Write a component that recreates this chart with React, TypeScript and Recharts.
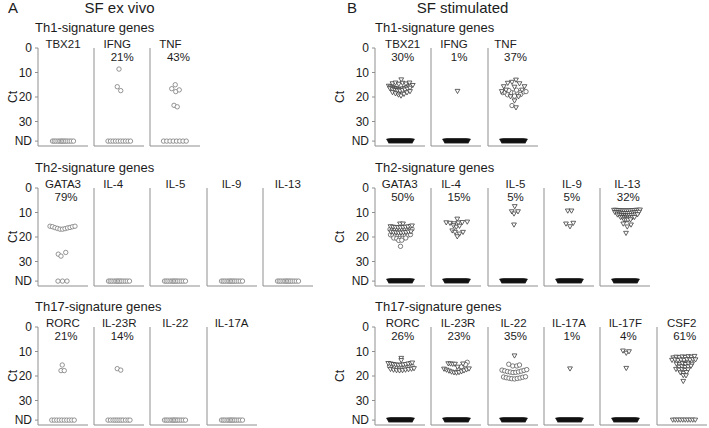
import React from 'react'
import { ScatterChart, Scatter, XAxis, YAxis } from 'recharts'

type Pt = [number, number] // [horizontal jitter, Ct]

const ND = 38
const Y_TICKS = [0, 10, 20, 30, ND]
const ROW_TITLES = ['Th1-signature genes', 'Th2-signature genes', 'Th17-signature genes']

// ---- A: SF ex vivo ----
const A_TH1_GENES = ['TBX21', 'IFNG', 'TNF']
const A_TH1_PCT = ['', '21%', '43%']
const A_TH2_GENES = ['GATA3', 'IL-4', 'IL-5', 'IL-9', 'IL-13']
const A_TH2_PCT = ['79%', '', '', '', '']
const A_TH17_GENES = ['RORC', 'IL-23R', 'IL-22', 'IL-17A']
const A_TH17_PCT = ['21%', '14%', '', '']

const A_IFNG: Pt[] = [[0, 8.6], [-0.07, 15.8], [0.07, 17.4]]
const A_TNF: Pt[] = [[0.01, 15], [-0.13, 16.6], [0.03, 17.8], [0.17, 17.1], [-0.04, 23.4], [0.09, 24]]
const A_GATA3: Pt[] = [
  [-0.52, 15.6], [-0.42, 15.8], [-0.32, 16.2], [-0.22, 16.5], [-0.12, 16.8], [-0.02, 16.8],
  [0.08, 16.6], [0.18, 16.3], [0.28, 16.1], [0.38, 15.8], [0.48, 15.6],
  [-0.19, 27.0], [-0.08, 27.8], [0.11, 26.3],
]
const A_RORC: Pt[] = [[-0.03, 15.5], [-0.08, 17.8], [0.05, 17.8]]
const A_IL23R: Pt[] = [[-0.07, 17.0], [0.07, 17.6]]

// x positions of the not-detected samples
const A_ND_DENSE = [-0.42, -0.35, -0.28, -0.2, -0.13, -0.07, -0.02, 0.04, 0.1, 0.17, 0.25, 0.33, 0.42]
const A_ND_IFNG = [-0.44, -0.34, -0.24, -0.14, -0.04, 0.06, 0.16, 0.26, 0.36, 0.46]
const A_ND_TNF = [-0.46, -0.33, -0.2, -0.07, 0.06, 0.19, 0.32, 0.45]
const A_ND_GATA3 = [-0.2, -0.02, 0.16]
const A_ND_RORC = [-0.45, -0.35, -0.25, -0.15, -0.05, 0.05, 0.15, 0.25, 0.35, 0.45]
const A_ND_IL23R = [-0.44, -0.34, -0.24, -0.16, -0.08, 0, 0.08, 0.16, 0.26, 0.36, 0.44]

// ---- B: SF stimulated ----
const B_TH1_GENES = ['TBX21', 'IFNG', 'TNF']
const B_TH1_PCT = ['30%', '1%', '37%']
const B_TH2_GENES = ['GATA3', 'IL-4', 'IL-5', 'IL-9', 'IL-13']
const B_TH2_PCT = ['50%', '15%', '5%', '5%', '32%']
const B_TH17_GENES = ['RORC', 'IL-23R', 'IL-22', 'IL-17A', 'IL-17F', 'CSF2']
const B_TH17_PCT = ['26%', '23%', '35%', '1%', '4%', '61%']

const B_TBX21_TRI: Pt[] = [
  [0.05, 13], [-0.3, 14.6], [-0.18, 14.3], [-0.05, 14.8], [0.1, 14.4], [0.24, 14.7], [0.38, 14.3],
  [-0.45, 15.6], [-0.37, 15.9], [-0.29, 16.2], [-0.21, 16.5], [-0.13, 16.7], [-0.05, 16.9], [0.03, 16.9],
  [0.11, 16.7], [0.19, 16.5], [0.27, 16.2], [0.35, 15.9], [0.43, 15.6], [0.51, 15.3],
  [-0.4, 16.6], [-0.3, 17], [-0.2, 17.3], [-0.1, 17.5], [0, 17.6], [0.1, 17.4], [0.2, 17.1], [0.3, 16.8], [0.4, 16.4],
  [-0.3, 18.2], [-0.18, 18.7], [-0.06, 19.2], [0.04, 19.6], [0.16, 18.9], [0.28, 18.3], [0.4, 17.8],
]
const B_IFNG_TRI: Pt[] = [[0.06, 17.7]]
const B_TNF_TRI: Pt[] = [
  [0.12, 13.1], [-0.04, 14], [-0.21, 14.4], [0.26, 14.6], [-0.37, 15.8], [0.46, 15.8], [0.06, 16],
  [-0.28, 17.2], [0.36, 17.2], [-0.45, 17.8], [-0.1, 19.9], [0.22, 19.9], [0.06, 21.6], [0.12, 24.4],
]
const B_TNF_CIRC: Pt[] = [
  [-0.41, 18.2], [-0.3, 18.1], [-0.18, 18.3], [-0.06, 18.2], [0.06, 18.3], [0.18, 18.1], [0.3, 18.2],
  [0.42, 17.9], [0.52, 17.8], [-0.17, 17.3], [0.14, 17.2], [0.06, 19.6], [-0.22, 19.1], [0.3, 19.0], [-0.04, 23.5],
]
const B_GATA3_TRI: Pt[] = [
  [0, 14.7], [0.12, 14.7],
  [-0.38, 15.8], [-0.28, 16], [-0.18, 16.1], [-0.08, 16.2], [0.02, 16.2], [0.12, 16.1], [0.22, 16], [0.32, 15.9], [0.42, 15.7], [0.48, 15.5],
  [-0.36, 18], [-0.26, 18.2], [-0.16, 18.3], [-0.06, 18.4], [0.04, 18.4], [0.14, 18.3], [0.24, 18.2], [0.34, 18], [0.44, 17.9],
]
const B_GATA3_CIRC: Pt[] = [
  [-0.4, 16.9], [-0.3, 17.1], [-0.2, 17.2], [-0.1, 17.3], [0, 17.3], [0.1, 17.2], [0.2, 17.1], [0.3, 17], [0.4, 16.9], [0.48, 16.7],
  [-0.38, 19.1], [-0.28, 19.3], [-0.18, 19.4], [-0.08, 19.5], [0.02, 19.5], [0.12, 19.4], [0.22, 19.3], [0.32, 19.2], [0.42, 19],
  [-0.25, 20.4], [-0.13, 20.6], [-0.01, 20.7], [0.11, 20.6], [0.23, 20.4], [-0.05, 21.4], [0.07, 21.3], [0.02, 23.8],
]
const B_IL4_TRI: Pt[] = [
  [0.05, 12.7], [-0.39, 14.2], [-0.24, 14.4], [-0.08, 14.6], [0.09, 14.3], [0.25, 14.1], [0.45, 13.9],
  [-0.1, 15.4], [0.01, 16.0], [0.14, 15.6], [-0.15, 17.5], [-0.04, 18.1], [0.14, 18.8], [0.28, 18.1], [0.05, 19.9],
]
const B_IL5_TRI: Pt[] = [[0.07, 7.6], [-0.05, 9.7], [0.04, 10.6], [0.2, 9.7], [0.04, 15.1]]
const B_IL9_TRI: Pt[] = [[-0.05, 9.4], [0.1, 9.4], [-0.12, 14.7], [0.04, 15.8], [0.17, 14.4]]
const B_IL13_TRI: Pt[] = [
  [-0.44, 9.1], [-0.36, 9.1], [-0.28, 9.2], [-0.2, 9.2], [-0.12, 9.3], [-0.04, 9.3], [0.04, 9.3], [0.12, 9.3],
  [0.2, 9.3], [0.28, 9.2], [0.36, 9.2], [0.44, 9.1], [0.52, 9.1], [0.6, 9.0],
  [-0.4, 10], [-0.32, 10.1], [-0.24, 10.2], [-0.16, 10.3], [-0.08, 10.4], [0, 10.4], [0.08, 10.4], [0.16, 10.4],
  [0.24, 10.3], [0.32, 10.2], [0.4, 10.1], [0.48, 10], [0.56, 9.9],
  [-0.3, 11], [-0.22, 11.1], [-0.14, 11.2], [-0.06, 11.3], [0.02, 11.4], [0.1, 11.4], [0.18, 11.3], [0.26, 11.2],
  [0.34, 11.1], [0.42, 11], [0.5, 10.9],
  [-0.18, 12], [-0.1, 12.1], [-0.02, 12.2], [0.06, 12.3], [0.14, 12.3], [0.22, 12.2], [0.3, 12.1], [0.38, 12],
  [-0.04, 13], [0.04, 13.1], [0.12, 13.1], [0.22, 13],
  [-0.07, 14.7], [0.09, 15.9], [0.24, 15.1], [0.04, 18.5],
]
const B_RORC_TRI: Pt[] = [
  [0.05, 12.8], [0.05, 13.7],
  [-0.47, 14.9], [-0.37, 15.1], [-0.27, 15.3], [-0.17, 15.5], [-0.07, 15.6], [0.03, 15.6], [0.13, 15.5],
  [0.23, 15.3], [0.33, 15.1], [0.43, 14.9], [0.49, 14.7],
  [-0.38, 17.3], [-0.26, 17.6], [-0.14, 17.8], [-0.02, 17.9], [0.1, 17.8], [0.22, 17.6], [0.34, 17.4], [0.46, 17.2], [0.56, 17.0],
]
const B_RORC_CIRC: Pt[] = [
  [-0.42, 16], [-0.32, 16.3], [-0.22, 16.5], [-0.12, 16.7], [-0.02, 16.8], [0.08, 16.7], [0.18, 16.5], [0.28, 16.3], [0.38, 16.1], [0.48, 15.9],
]
const B_IL23R_TRI: Pt[] = [
  [-0.31, 15.0], [-0.22, 15.1], [-0.13, 15.2], [-0.04, 15.2], [0.28, 15.1], [0.06, 16.4],
  [-0.48, 17.2], [-0.38, 17.6], [-0.28, 18.0], [-0.18, 18.4], [-0.08, 18.7], [0.02, 18.8], [0.12, 18.6],
  [0.22, 18.3], [0.32, 17.9], [0.42, 17.5], [0.52, 17.1],
]
const B_IL23R_CIRC: Pt[] = [[0.45, 14.4], [0.38, 15.3], [0.22, 16.2], [0.09, 17.5]]
const B_IL22_TRI: Pt[] = [[0.06, 11.8]]
const B_IL22_CIRC: Pt[] = [
  [-0.17, 15.2], [-0.01, 15.9], [0.15, 15.9], [0.26, 15.5],
  [-0.44, 17.6], [-0.33, 17.9], [-0.22, 18.2], [-0.11, 18.4], [0, 18.6], [0.11, 18.5], [0.22, 18.3], [0.33, 18.0], [0.44, 17.7], [0.55, 17.4],
  [-0.38, 20.4], [-0.27, 20.7], [-0.16, 20.9], [-0.05, 21.1], [0.06, 21.2], [0.17, 21.0], [0.28, 20.8], [0.39, 20.5], [0.5, 20.3],
]
const B_IL17A_TRI: Pt[] = [[0.04, 17.1]]
const B_IL17F_TRI: Pt[] = [[-0.08, 9.8], [0.05, 10.7], [0.16, 10.1], [0.05, 16.9]]
const B_CSF2_TRI: Pt[] = [
  [-0.35, 12.6], [-0.23, 12.3], [-0.11, 12.5], [0.01, 12.2], [0.13, 12.4], [0.25, 12.1], [0.37, 12.3], [0.5, 12.0],
  [-0.4, 13.6], [-0.28, 13.4], [-0.16, 13.7], [-0.04, 13.5], [0.08, 13.6], [0.2, 13.3], [0.32, 13.5], [0.44, 13.3], [0.54, 13.4],
  [-0.22, 15.2], [-0.1, 15.4], [0.02, 15.0], [0.14, 15.3], [0.26, 15.1], [0.4, 15.2],
  [-0.12, 16.4], [0, 16.2], [0.12, 16.5], [0.24, 16.3], [0.36, 16.0],
  [-0.24, 17.3], [-0.12, 17.6], [0, 17.4], [0.12, 17.7], [0.24, 17.5],
  [-0.06, 18.7], [0.06, 18.9], [0.18, 18.6], [0.05, 19.8], [0.16, 19.9], [0.05, 22.2],
]
const B_CSF2_CIRC: Pt[] = [[-0.06, 14.4], [0.1, 14.5], [0.22, 14.3]]

const B_ND_BAR = [
  -0.44, -0.4, -0.36, -0.32, -0.28, -0.24, -0.2, -0.16, -0.12, -0.08, -0.04, 0,
  0.04, 0.08, 0.12, 0.16, 0.2, 0.24, 0.28, 0.32, 0.36, 0.4, 0.44, 0.48,
]
const B_ND_CSF2 = [-0.37, -0.27, -0.17, -0.07, 0.03, 0.13, 0.23, 0.33, 0.43, 0.53]

// ---- layout / style ----
const FONT = '"Liberation Sans", Arial, Helvetica, sans-serif'
const AXIS = '#8f8f8f'
const INK = '#1c1c1c'
const ROW_TOP = [48, 188, 327]
const PLOT_H = 98
const PLOT_W = 50
const M_TOP = 9
const SIDE_X = { A: 38, B: 374.7 }
const SIDE_STEP = { A: 56.2, B: 56.4 }
const CT_X = { A: 12.5, B: 339.5 }

type NdKind = 'circ' | 'bar' | 'tri'
interface PanelCfg {
  side: 'A' | 'B'
  row: number
  col: number
  gene: string
  pct: string
  circ: Pt[]
  tri: Pt[]
  nd: number[]
  ndKind: NdKind
  labelDx?: number
}

const PANELS: PanelCfg[] = [
  { side: 'A', row: 0, col: 0, gene: A_TH1_GENES[0], pct: A_TH1_PCT[0], circ: [], tri: [], nd: A_ND_DENSE, ndKind: 'circ' },
  { side: 'A', row: 0, col: 1, gene: A_TH1_GENES[1], pct: A_TH1_PCT[1], circ: A_IFNG, tri: [], nd: A_ND_IFNG, ndKind: 'circ', labelDx: -2 },
  { side: 'A', row: 0, col: 2, gene: A_TH1_GENES[2], pct: A_TH1_PCT[2], circ: A_TNF, tri: [], nd: A_ND_TNF, ndKind: 'circ', labelDx: -5 },
  { side: 'A', row: 1, col: 0, gene: A_TH2_GENES[0], pct: A_TH2_PCT[0], circ: A_GATA3, tri: [], nd: A_ND_GATA3, ndKind: 'circ' },
  { side: 'A', row: 1, col: 1, gene: A_TH2_GENES[1], pct: A_TH2_PCT[1], circ: [], tri: [], nd: A_ND_DENSE, ndKind: 'circ', labelDx: -6 },
  { side: 'A', row: 1, col: 2, gene: A_TH2_GENES[2], pct: A_TH2_PCT[2], circ: [], tri: [], nd: A_ND_DENSE, ndKind: 'circ' },
  { side: 'A', row: 1, col: 3, gene: A_TH2_GENES[3], pct: A_TH2_PCT[3], circ: [], tri: [], nd: A_ND_DENSE, ndKind: 'circ' },
  { side: 'A', row: 1, col: 4, gene: A_TH2_GENES[4], pct: A_TH2_PCT[4], circ: [], tri: [], nd: A_ND_DENSE, ndKind: 'circ' },
  { side: 'A', row: 2, col: 0, gene: A_TH17_GENES[0], pct: A_TH17_PCT[0], circ: A_RORC, tri: [], nd: A_ND_RORC, ndKind: 'circ' },
  { side: 'A', row: 2, col: 1, gene: A_TH17_GENES[1], pct: A_TH17_PCT[1], circ: A_IL23R, tri: [], nd: A_ND_IL23R, ndKind: 'circ' },
  { side: 'A', row: 2, col: 2, gene: A_TH17_GENES[2], pct: A_TH17_PCT[2], circ: [], tri: [], nd: A_ND_DENSE, ndKind: 'circ' },
  { side: 'A', row: 2, col: 3, gene: A_TH17_GENES[3], pct: A_TH17_PCT[3], circ: [], tri: [], nd: A_ND_DENSE, ndKind: 'circ' },

  { side: 'B', row: 0, col: 0, gene: B_TH1_GENES[0], pct: B_TH1_PCT[0], circ: [], tri: B_TBX21_TRI, nd: B_ND_BAR, ndKind: 'bar', labelDx: 3 },
  { side: 'B', row: 0, col: 1, gene: B_TH1_GENES[1], pct: B_TH1_PCT[1], circ: [], tri: B_IFNG_TRI, nd: B_ND_BAR, ndKind: 'bar', labelDx: -2 },
  { side: 'B', row: 0, col: 2, gene: B_TH1_GENES[2], pct: B_TH1_PCT[2], circ: B_TNF_CIRC, tri: B_TNF_TRI, nd: B_ND_BAR, ndKind: 'bar', labelDx: -7 },
  { side: 'B', row: 1, col: 0, gene: B_TH2_GENES[0], pct: B_TH2_PCT[0], circ: B_GATA3_CIRC, tri: B_GATA3_TRI, nd: B_ND_BAR, ndKind: 'bar' },
  { side: 'B', row: 1, col: 1, gene: B_TH2_GENES[1], pct: B_TH2_PCT[1], circ: [], tri: B_IL4_TRI, nd: B_ND_BAR, ndKind: 'bar', labelDx: -5 },
  { side: 'B', row: 1, col: 2, gene: B_TH2_GENES[2], pct: B_TH2_PCT[2], circ: [], tri: B_IL5_TRI, nd: B_ND_BAR, ndKind: 'bar', labelDx: 3 },
  { side: 'B', row: 1, col: 3, gene: B_TH2_GENES[3], pct: B_TH2_PCT[3], circ: [], tri: B_IL9_TRI, nd: B_ND_BAR, ndKind: 'bar', labelDx: 3 },
  { side: 'B', row: 1, col: 4, gene: B_TH2_GENES[4], pct: B_TH2_PCT[4], circ: [], tri: B_IL13_TRI, nd: B_ND_BAR, ndKind: 'bar', labelDx: 2 },
  { side: 'B', row: 2, col: 0, gene: B_TH17_GENES[0], pct: B_TH17_PCT[0], circ: B_RORC_CIRC, tri: B_RORC_TRI, nd: B_ND_BAR, ndKind: 'bar', labelDx: 3 },
  { side: 'B', row: 2, col: 1, gene: B_TH17_GENES[1], pct: B_TH17_PCT[1], circ: B_IL23R_CIRC, tri: B_IL23R_TRI, nd: B_ND_BAR, ndKind: 'bar', labelDx: 2 },
  { side: 'B', row: 2, col: 2, gene: B_TH17_GENES[2], pct: B_TH17_PCT[2], circ: B_IL22_CIRC, tri: B_IL22_TRI, nd: B_ND_BAR, ndKind: 'bar', labelDx: 1 },
  { side: 'B', row: 2, col: 3, gene: B_TH17_GENES[3], pct: B_TH17_PCT[3], circ: [], tri: B_IL17A_TRI, nd: B_ND_BAR, ndKind: 'bar' },
  { side: 'B', row: 2, col: 4, gene: B_TH17_GENES[4], pct: B_TH17_PCT[4], circ: [], tri: B_IL17F_TRI, nd: B_ND_BAR, ndKind: 'bar' },
  { side: 'B', row: 2, col: 5, gene: B_TH17_GENES[5], pct: B_TH17_PCT[5], circ: B_CSF2_CIRC, tri: B_CSF2_TRI, nd: B_ND_CSF2, ndKind: 'tri' },
]

const toXY = (pts: Pt[]) => pts.map(([x, y]) => ({ x, y }))

function makeCircle(stroke: string, r: number) {
  return (props: any) => {
    const { cx, cy } = props
    if (cx == null || cy == null) return <g />
    return <circle cx={cx} cy={cy} r={r} fill="#fff" stroke={stroke} strokeWidth={0.8} />
  }
}

function makeTri(stroke: string, fill: string) {
  return (props: any) => {
    const { cx, cy } = props
    if (cx == null || cy == null) return <g />
    const d = `M${cx - 2.4},${cy - 2} L${cx + 2.4},${cy - 2} L${cx},${cy + 2.2} Z`
    return <path d={d} fill={fill} stroke={stroke} strokeWidth={0.8} />
  }
}

const circA = makeCircle('#7a7a7a', 2.2)
const circB = makeCircle('#5a5a5a', 2.2)
const triB = makeTri('#3c3c3c', '#fff')
const triBar = makeTri('#111', '#111')
const triCsfNd = makeTri('#444', '#fff')

function Panel({ cfg }: { cfg: PanelCfg }) {
  const first = cfg.col === 0
  const yW = first ? 34 : 4
  const axisX = SIDE_X[cfg.side] + cfg.col * SIDE_STEP[cfg.side]
  const top = ROW_TOP[cfg.row]
  const ndData = cfg.nd.map(x => ({ x, y: ND }))
  const ndShape = cfg.ndKind === 'circ' ? circA : cfg.ndKind === 'bar' ? triBar : triCsfNd
  return (
    <div style={{ position: 'absolute', left: axisX - yW, top: top - M_TOP }}>
      <ScatterChart
        width={yW + PLOT_W + 2}
        height={M_TOP + PLOT_H + 5}
        margin={{ top: M_TOP, right: 2, bottom: 0, left: 0 }}
      >
        <XAxis
          type="number"
          dataKey="x"
          domain={[-1, 1]}
          ticks={[0]}
          tick={false}
          tickSize={3}
          height={5}
          stroke={AXIS}
        />
        <YAxis
          type="number"
          dataKey="y"
          domain={[0, 40]}
          reversed
          ticks={Y_TICKS}
          interval={0}
          tickSize={3}
          tickMargin={3}
          width={yW}
          stroke={AXIS}
          tick={first ? { fill: INK, fontSize: 12, fontFamily: FONT } : false}
          tickFormatter={(v: number) => (v === ND ? 'ND' : String(v))}
        />
        <Scatter data={ndData} shape={ndShape} isAnimationActive={false} />
        {cfg.circ.length > 0 && (
          <Scatter data={toXY(cfg.circ)} shape={cfg.side === 'A' ? circA : circB} isAnimationActive={false} />
        )}
        {cfg.tri.length > 0 && <Scatter data={toXY(cfg.tri)} shape={triB} isAnimationActive={false} />}
      </ScatterChart>
    </div>
  )
}

export default function App() {
  return (
    <div style={{ position: 'absolute', left: 0, top: 0, width: 709, height: 428, background: '#fff', overflow: 'hidden' }}>
      {PANELS.map(p => (
        <Panel key={`${p.side}-${p.row}-${p.col}`} cfg={p} />
      ))}
      <svg width={709} height={428} style={{ position: 'absolute', left: 0, top: 0, pointerEvents: 'none' }}>
        <g fontFamily={FONT} fill={INK}>
          <text x={8} y={13} fontSize={15}>A</text>
          <text x={119.5} y={13} fontSize={15} textAnchor="middle">SF ex vivo</text>
          <text x={347} y={13} fontSize={15}>B</text>
          <text x={462.5} y={13} fontSize={15} textAnchor="middle">SF stimulated</text>
          {ROW_TOP.map((t, r) => (
            <g key={r}>
              <text x={35} y={t - 16.5} fontSize={13}>{ROW_TITLES[r]}</text>
              <text x={375} y={t - 16.5} fontSize={13}>{ROW_TITLES[r]}</text>
              {(['A', 'B'] as const).map(s => (
                <text key={s} x={CT_X[s]} y={t + PLOT_H / 2} fontSize={12} textAnchor="middle" dominantBaseline="central"
                  transform={`rotate(-90 ${CT_X[s]} ${t + PLOT_H / 2})`}>Ct</text>
              ))}
            </g>
          ))}
          {PANELS.map(p => {
            const cx = SIDE_X[p.side] + p.col * SIDE_STEP[p.side] + PLOT_W / 2
            const t = ROW_TOP[p.row]
            return (
              <g key={`t-${p.side}-${p.row}-${p.col}`}>
                <text x={cx + (p.labelDx ?? 0)} y={t} fontSize={11.5} textAnchor="middle">{p.gene}</text>
                {p.pct && (
                  <text x={cx + 3} y={t + 12.5} fontSize={11.5} textAnchor="middle">{p.pct}</text>
                )}
              </g>
            )
          })}
        </g>
      </svg>
    </div>
  )
}
